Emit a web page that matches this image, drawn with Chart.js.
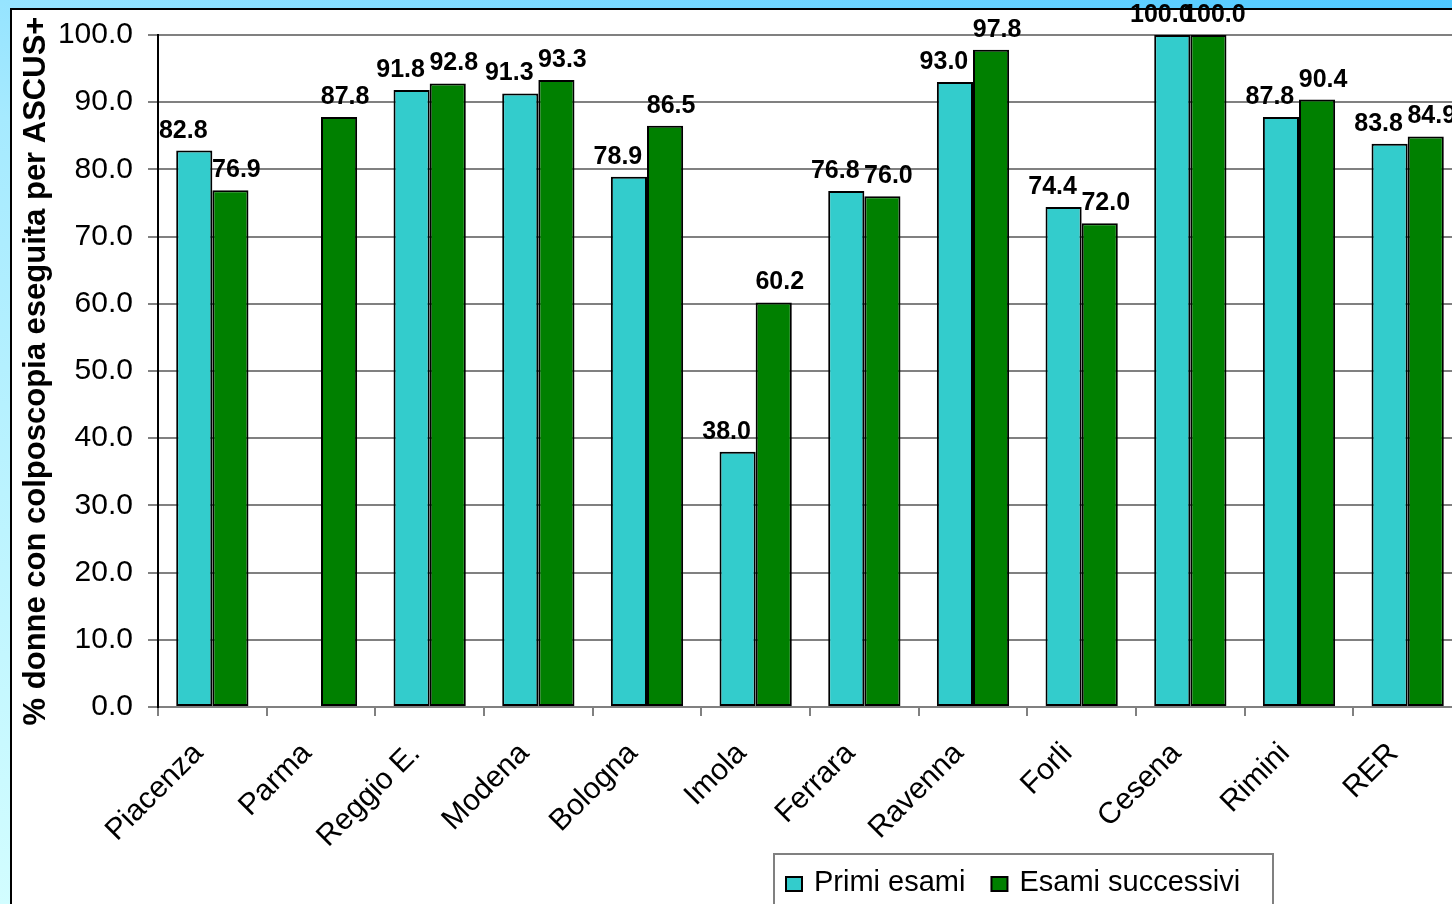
<!DOCTYPE html>
<html>
<head>
<meta charset="utf-8">
<title>Colposcopia ASCUS+</title>
<script src="https://cdn.jsdelivr.net/npm/chart.js@4.4.0/dist/chart.umd.min.js"></script>
<style>
  html, body { margin: 0; padding: 0; width: 1452px; height: 904px; overflow: hidden; }
  body { position: relative; background: linear-gradient(200deg, #4ec8ff 0%, #a6eaff 45%, #d2fdff 100%); }
  #panel { position: absolute; left: 10px; top: 8px; width: 1500px; height: 960px; border: 2px solid #000; background: #fff; }
  #chart { position: absolute; left: 0; top: 0; }
</style>
</head>
<body>
<div id="panel"></div>
<canvas id="chart" width="1480" height="920"></canvas>
<script>
// Data
const categories = ["Piacenza", "Parma", "Reggio E.", "Modena", "Bologna", "Imola", "Ferrara", "Ravenna", "Forli", "Cesena", "Rimini", "RER"];
const primiEsami = [82.8, null, 91.8, 91.3, 78.9, 38.0, 76.8, 93.0, 74.4, 100.0, 87.8, 83.8];
const esamiSuccessivi = [76.9, 87.8, 92.8, 93.3, 86.5, 60.2, 76.0, 97.8, 72.0, 100.0, 90.4, 84.9];
const yTicks = [0, 10, 20, 30, 40, 50, 60, 70, 80, 90, 100];
const yTitle = "% donne con colposcopia eseguita per ASCUS+";

const FONT = "'Liberation Sans', Arial, sans-serif";
const CYAN = "#33cccc";
const GREEN = "#008000";

// value labels above each bar (cyan nudged left, green nudged right like the original)
const labelShift = [-11, 6];
const valueLabels = {
    id: "valueLabels",
    afterDatasetsDraw(chart) {
        const ctx = chart.ctx;
        ctx.save();
        ctx.font = "bold 25px " + FONT;
        ctx.fillStyle = "#000";
        ctx.textAlign = "center";
        ctx.textBaseline = "alphabetic";
        chart.data.datasets.forEach((ds, i) => {
            chart.getDatasetMeta(i).data.forEach((bar, j) => {
                const v = ds.data[j];
                if (v === null) return;
                ctx.fillText(v.toFixed(1), bar.x + labelShift[i], bar.y - 13);
            });
        });
        ctx.restore();
    }
};

// framed legend, placed like the original one under the axis labels
const boxLegend = {
    id: "boxLegend",
    afterDraw(chart) {
        const ctx = chart.ctx;
        ctx.save();
        ctx.fillStyle = "#fff";
        ctx.fillRect(774, 854, 499, 80);
        ctx.strokeStyle = "#808080";
        ctx.lineWidth = 2;
        ctx.strokeRect(774, 854, 499, 80);
        ctx.font = "29px " + FONT;
        ctx.textBaseline = "alphabetic";
        let x = 786;
        chart.data.datasets.forEach((ds) => {
            ctx.fillStyle = ds.backgroundColor;
            ctx.fillRect(x, 877, 16, 14);
            ctx.strokeStyle = "#000";
            ctx.lineWidth = 2;
            ctx.strokeRect(x, 877, 16, 14);
            ctx.fillStyle = "#000";
            ctx.fillText(ds.label, x + 28, 891);
            x += 28 + ctx.measureText(ds.label).width + 26;
        });
        ctx.restore();
    }
};

new Chart(document.getElementById("chart"), {
    type: "bar",
    data: {
        labels: categories,
        datasets: [
            { label: "Primi esami", data: primiEsami, backgroundColor: CYAN, borderColor: "#000", borderWidth: 2, borderSkipped: false },
            { label: "Esami successivi", data: esamiSuccessivi, backgroundColor: GREEN, borderColor: "#000", borderWidth: 2, borderSkipped: false }
        ]
    },
    options: {
        responsive: false,
        animation: false,
        events: [],
        layout: { padding: { left: 0, top: 35, right: 18, bottom: 0 } },
        datasets: { bar: { categoryPercentage: 0.665, barPercentage: 1.0 } },
        plugins: {
            legend: { display: false },
            tooltip: { enabled: false }
        },
        scales: {
            x: {
                grid: { offset: true, drawOnChartArea: false, color: "#808080", lineWidth: 2, tickLength: 9 },
                border: { color: "#808080", width: 2 },
                ticks: { color: "#000", font: { family: FONT, size: 30 }, minRotation: 45, maxRotation: 45, padding: 20, labelOffset: -14, autoSkip: false },
                afterFit(scale) { scale.height = 920 - 707; }
            },
            y: {
                min: 0,
                max: 100,
                afterBuildTicks(scale) { scale.ticks = yTicks.map(v => ({ value: v })); },
                grid: { color: "#808080", lineWidth: 2, tickLength: 10 },
                border: { color: "#000", width: 2 },
                ticks: { color: "#000", font: { family: FONT, size: 30 }, padding: 15, callback: v => v.toFixed(1) },
                title: { display: true, text: yTitle, color: "#000", font: { family: FONT, size: 31, weight: "bold" }, padding: { top: 18 } },
                afterFit(scale) { scale.width = 158; }
            }
        }
    },
    plugins: [valueLabels, boxLegend]
});
</script>
</body>
</html>
